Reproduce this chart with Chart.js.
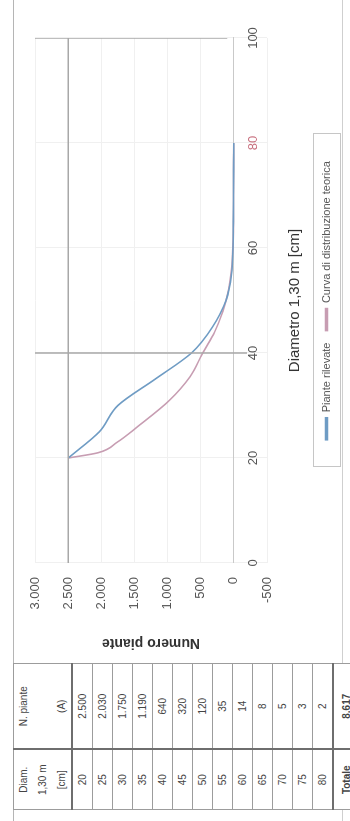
<!DOCTYPE html>
<html lang="it">
<head>
<meta charset="utf-8">
<title>Distribuzione diametrica</title>
<script src="https://cdn.jsdelivr.net/npm/chart.js@4.4.1/dist/chart.umd.min.js"></script>
<style>
  html, body { margin: 0; padding: 0; background: #fff; overflow: hidden; }
  body { width: 350px; height: 821px; position: relative; }
  /* the sheet is laid out landscape and turned a quarter to the left */
  #sheet {
    position: absolute; left: 0; top: 0; width: 821px; height: 350px;
    transform-origin: 0 0; transform: translate(0, 821px) rotate(-90deg);
    font-family: "Liberation Sans", Arial, sans-serif; color: #444; background: #fff;
  }
  #frame {
    position: absolute; left: 0; top: 13px; width: 821px; height: 330px; box-sizing: border-box;
    border-top: 1px solid #b5b5b5; border-bottom: 1px solid #cfcfcf;
  }
  #tab {
    position: absolute; left: 11px; top: 13px; width: 147px; height: 329px;
    border-collapse: collapse; table-layout: fixed; font-size: 10px; background: #fff;
  }
  #tab td, #tab th { border: 1px solid #9c9c9c; text-align: center; padding: 0; font-weight: normal; }
  #tab th { height: 57px; line-height: 19px; border-bottom: 2px solid #6e6e6e; }
  #tab td { height: 19px; }
  #tab tr.tot td { height: 24px; font-weight: bold; border-top: 2px solid #6e6e6e; }
  #tab col.c1 { width: 60px; }
  #tab td.c1, #tab th.c1 { border-right: 2px solid #6e6e6e; }
  #chartBox { position: absolute; left: 160px; top: 0; width: 661px; height: 350px; }
</style>
</head>
<body>
<div id="sheet">
  <div id="frame"></div>
  <table id="tab">
    <colgroup><col class="c1"><col></colgroup>
    <thead>
      <tr><th class="c1">Diam.<br>1,30 m<br>[cm]</th><th>N. piante<br>&nbsp;<br>(A)</th></tr>
    </thead>
    <tbody id="tabBody"></tbody>
  </table>
  <div id="chartBox"><canvas id="chart" width="661" height="350"></canvas></div>
</div>

<script>
// diameter classes [cm] and trees counted in each class
const diameterClasses = [20, 25, 30, 35, 40, 45, 50, 55, 60, 65, 70, 75, 80];
const plantsObserved  = [2500, 2030, 1750, 1190, 640, 320, 120, 35, 14, 8, 5, 3, 2];

// theoretical distribution curve
const modelDiameters = [20, 21, 23, 26, 31, 35.5, 40, 44, 48, 52, 56, 60, 70, 80];
const modelPlants    = [2500, 2050, 1760, 1450, 970, 660, 470, 290, 165, 80, 35, 15, 5, 2];

// guide lines
const guidePlants = 2500;               // horizontal guide across the diameter range
const guideDiameters = [40, 100];       // vertical guides
const guideTop = [3000, 3000];
const guideBottom = [-200, 100];

const seriesLabels = ['Piante rilevate', 'Curva di distribuzione teorica'];
const seriesColors = ['#6f9cc4', '#c79db2'];
const guideColor = '#a8a8a8';

const yMin = -500, yMax = 3000, yStep = 500;
const xMin = 0, xMax = 100, xStep = 20;
const highlightedXTick = 80;

const fmt = v => String(v).replace(/\B(?=(\d{3})+(?!\d))/g, '.');

// table beside the chart
const body = document.getElementById('tabBody');
diameterClasses.forEach((d, i) => {
  const tr = document.createElement('tr');
  tr.innerHTML = '<td class="c1">' + d + '</td><td>' + fmt(plantsObserved[i]) + '</td>';
  body.appendChild(tr);
});
const total = plantsObserved.reduce((a, b) => a + b, 0);
const trTot = document.createElement('tr');
trTot.className = 'tot';
trTot.innerHTML = '<td class="c1">Totale</td><td>' + fmt(total) + '</td>';
body.appendChild(trTot);

Chart.defaults.font.family = '"Liberation Sans", Arial, sans-serif';
Chart.defaults.color = '#555';

const guideSets = [
  { data: [{ x: xMin, y: guidePlants }, { x: xMax, y: guidePlants }] }
].concat(guideDiameters.map((d, i) => ({
  data: [{ x: d, y: guideTop[i] }, { x: d, y: guideBottom[i] }]
}))).map(s => Object.assign(s, {
  label: '', isGuide: true, borderColor: guideColor, backgroundColor: guideColor,
  borderWidth: 1.5, pointRadius: 0, fill: false
}));

const curveSets = [
  { label: seriesLabels[0], data: diameterClasses.map((d, i) => ({ x: d, y: plantsObserved[i] })) },
  { label: seriesLabels[1], data: modelDiameters.map((d, i) => ({ x: d, y: modelPlants[i] })) }
].map((s, i) => Object.assign(s, {
  borderColor: seriesColors[i], backgroundColor: seriesColors[i], borderWidth: 1.6,
  pointRadius: 0, fill: false, cubicInterpolationMode: 'monotone'
}));

// thin frame around the legend items
const legendFrame = {
  id: 'legendFrame',
  afterDraw(chart) {
    const lg = chart.legend;
    const boxes = lg && lg.legendHitBoxes;
    if (!boxes || !boxes.length) return;
    const left = Math.min(...boxes.map(b => b.left)) - 27;
    const right = Math.max(...boxes.map(b => b.left + b.width)) + 27;
    const ctx = chart.ctx;
    ctx.save();
    ctx.strokeStyle = '#c6c6c6';
    ctx.lineWidth = 1;
    ctx.strokeRect(Math.round(left) + 0.5, Math.round(lg.top) + 4.5, Math.round(right - left), Math.round(lg.height) - 6);
    ctx.restore();
  }
};

new Chart(document.getElementById('chart'), {
  type: 'line',
  data: { datasets: guideSets.concat(curveSets) },
  options: {
    responsive: false,
    animation: false,
    layout: { padding: { top: 35, right: 38, bottom: 8, left: 0 } },
    scales: {
      x: {
        type: 'linear', min: xMin, max: xMax,
        position: { y: 0 },
        ticks: {
          stepSize: xStep, padding: 12, font: { size: 13 },
          color: ctx => (ctx.tick && ctx.tick.value === highlightedXTick) ? '#c8707f' : '#555'
        },
        grid: { color: '#f0f0f0', drawTicks: false },
        border: { color: '#c9c9c9' }
      },
      y: {
        min: yMin, max: yMax,
        ticks: { stepSize: yStep, padding: 14, font: { size: 13 }, callback: v => fmt(v) },
        grid: { color: '#f0f0f0', drawTicks: false },
        border: { display: false },
        title: {
          display: true, text: 'Numero piante', color: '#333',
          font: { size: 14, weight: 'bold' }, padding: { top: 10, bottom: 0 }
        },
        afterFit: s => { s.width = 98; }
      }
    },
    plugins: {
      legend: {
        position: 'bottom', fullSize: false,
        labels: {
          boxWidth: 22, boxHeight: 2, padding: 12, color: '#555', font: { size: 11 },
          filter: (item, data) => !data.datasets[item.datasetIndex].isGuide
        }
      },
      title: {
        display: true, position: 'bottom', weight: 500, fullSize: false,
        text: 'Diametro 1,30 m [cm]', color: '#333',
        font: { size: 15, weight: 'normal' }, padding: { top: 19, bottom: 5 }
      },
      tooltip: { enabled: false }
    }
  },
  plugins: [legendFrame]
});
</script>
</body>
</html>
